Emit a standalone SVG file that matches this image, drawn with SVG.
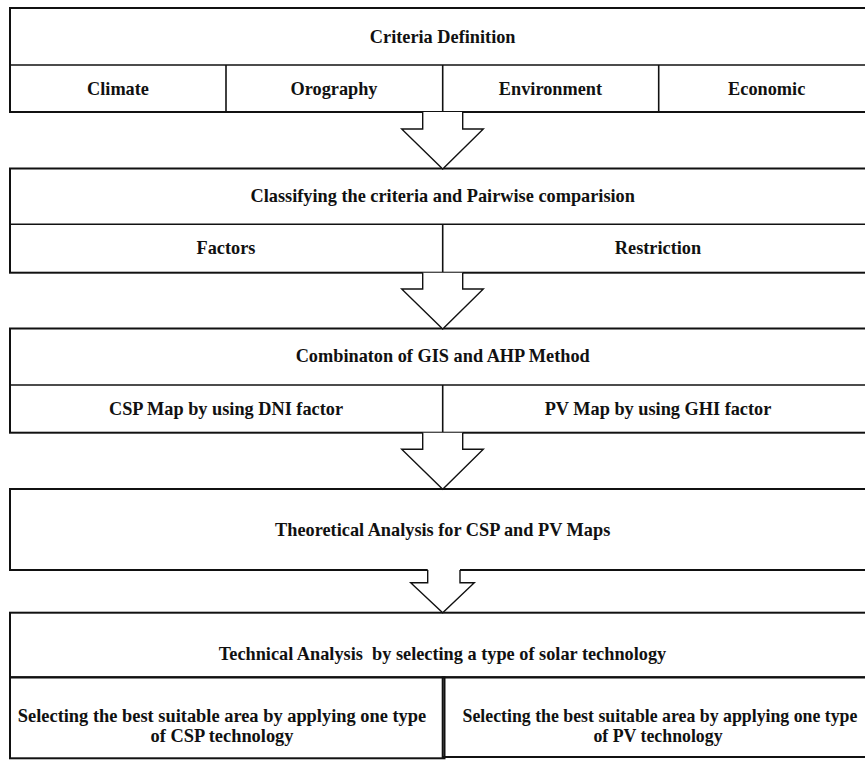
<svg xmlns="http://www.w3.org/2000/svg" width="865" height="761" viewBox="0 0 865 761">
<style>
  .box { fill: none; stroke: #111; stroke-width: 2; }
  .div { fill: none; stroke: #111; stroke-width: 1.6; }
  .arr { fill: #fff; stroke: #111; stroke-width: 1.4; stroke-linejoin: miter; }
  .t { font-family: "Liberation Serif", "Times New Roman", serif; font-weight: bold; font-size: 18.3px; fill: #111; text-anchor: middle; white-space: pre; }
  .s1 { font-size: 18.4px; }
  .s2 { font-size: 17.8px; }
</style>
<rect x="0" y="0" width="865" height="761" fill="#fff"/>

<g id="criteria">
  <rect class="box" x="10" y="8" width="865" height="104"/>
  <line class="div" x1="10" y1="65" x2="875" y2="65"/>
  <line class="div" x1="226" y1="65" x2="226" y2="112"/>
  <line class="div" x1="442.7" y1="65" x2="442.7" y2="112"/>
  <line class="div" x1="658.7" y1="65" x2="658.7" y2="112"/>
  <text class="t" x="442.7" y="42.5">Criteria Definition</text>
  <text class="t" x="118" y="94.5">Climate</text>
  <text class="t" x="334" y="94.5">Orography</text>
  <text class="t" x="550.5" y="94.5">Environment</text>
  <text class="t" x="766.7" y="94.5">Economic</text>
</g>

<g id="classifying">
  <rect class="box" x="10" y="168.5" width="865" height="104.2"/>
  <line class="div" x1="10" y1="224.3" x2="875" y2="224.3"/>
  <line class="div" x1="442.7" y1="224.3" x2="442.7" y2="272.7"/>
  <text class="t" x="442.7" y="202">Classifying the criteria and Pairwise comparision</text>
  <text class="t" x="226" y="254">Factors</text>
  <text class="t" x="658" y="254">Restriction</text>
</g>

<g id="combination">
  <rect class="box" x="10" y="328.5" width="865" height="104.2"/>
  <line class="div" x1="10" y1="385" x2="875" y2="385"/>
  <line class="div" x1="442.7" y1="385" x2="442.7" y2="432.7"/>
  <text class="t" x="442.7" y="361.5">Combinaton of GIS and AHP Method</text>
  <text class="t" x="226" y="415">CSP Map by using DNI factor</text>
  <text class="t" x="658" y="415">PV Map by using GHI factor</text>
</g>

<g id="theoretical">
  <path class="box" d="M427.7,570 H10 V489 H875 V570 H460"/>
  <text class="t" x="442.7" y="535.5">Theoretical Analysis for CSP and PV Maps</text>
</g>

<g id="technical">
  <rect class="box" x="10" y="612.7" width="865" height="64.6"/>
  <rect class="box" x="10" y="677.3" width="434.5" height="81"/>
  <rect class="box" x="442.7" y="677.3" width="432.3" height="79.7"/>
  <text class="t" x="442.5" y="660" xml:space="preserve">Technical Analysis  by selecting a type of solar technology</text>
  <text class="t s1" x="222" y="722">Selecting the best suitable area by applying one type</text>
  <text class="t s1" x="222" y="741.5">of CSP technology</text>
  <text class="t s2" x="660" y="722">Selecting the best suitable area by applying one type</text>
  <text class="t s2" x="658" y="741.5">of PV technology</text>
</g>

<g id="connectors">
  <path class="arr" d="M422.7,112 V129 H401.7 L442.7,169 L483.3,129 H462.7 V112"/>
  <path class="arr" d="M422.7,272.7 V289 H401.7 L442.7,329 L483.3,289 H462.7 V272.7"/>
  <path class="arr" d="M422.7,432.7 V449.3 H401.7 L442.7,489.3 L483.3,449.3 H462.7 V432.7"/>
  <path class="arr" d="M427.7,570 V582.7 H410.7 L442.7,612.7 L474.3,582.7 H460 V570"/>
</g>
</svg>
